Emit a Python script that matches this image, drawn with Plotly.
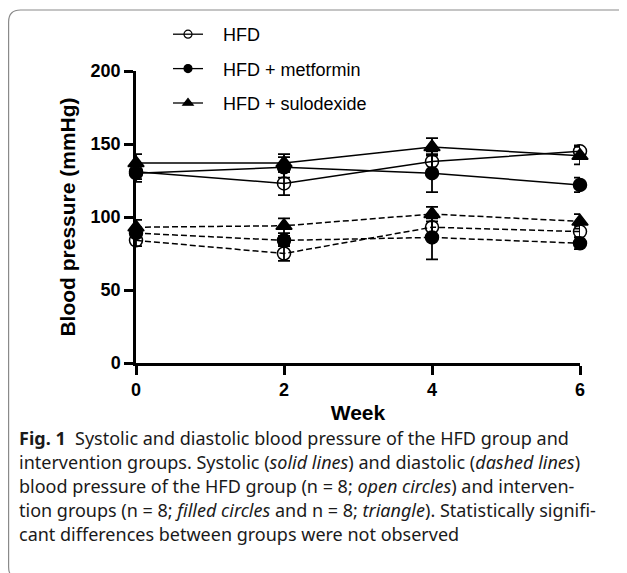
import plotly.graph_objects as go

W, H = 627, 573
OFF = 8  # page body margin: figure is drawn 8px right/down in the window

weeks = [0, 2, 4, 6]
groups = ["HFD", "HFD + metformin", "HFD + sulodexide"]
symbols = ["circle-open", "circle", "triangle-up"]

systolic = {
    "HFD": [131, 123, 138, 145],
    "HFD + metformin": [130, 134, 130, 122],
    "HFD + sulodexide": [137, 137, 148, 142],
}
systolic_err = {
    "HFD": [5, 8, 7, 4],
    "HFD + metformin": [6, 7, 13, 5],
    "HFD + sulodexide": [6, 6, 6, 6],
}
diastolic = {
    "HFD": [84, 75, 93, 90],
    "HFD + metformin": [89, 84, 86, 82],
    "HFD + sulodexide": [93, 94, 102, 97],
}
diastolic_err = {
    "HFD": [4, 5, 6, 4],
    "HFD + metformin": [3, 3, 15, 4],
    "HFD + sulodexide": [5, 5, 5, 5],
}

y_ticks = [0, 50, 100, 150, 200]
x_ticks = [0, 2, 4, 6]

caption_lines = [
    "<b>Fig. 1</b>  Systolic and diastolic blood pressure of the HFD group and",
    "intervention groups. Systolic (<i>solid lines</i>) and diastolic (<i>dashed lines</i>)",
    "blood pressure of the HFD group (n = 8; <i>open circles</i>) and interven-",
    "tion groups (n = 8; <i>filled circles</i> and n = 8; <i>triangle</i>). Statistically signifi-",
    "cant differences between groups were not observed",
]


def px_x(x):
    return (x - OFF) / W


def px_y(y):
    return 1 - (y - OFF) / H


fig = go.Figure()

for i, g in enumerate(groups):
    sym = symbols[i]
    msize = 13 if "circle" in sym else 14
    marker = dict(symbol=sym, size=msize, color="black",
                  line=dict(color="black", width=1.5))
    fig.add_trace(go.Scatter(
        x=weeks, y=systolic[g], name=g, mode="lines+markers",
        showlegend=False,
        line=dict(color="black", width=1.5),
        marker=marker, cliponaxis=False,
        error_y=dict(type="data", array=systolic_err[g], color="black",
                     thickness=1.8, width=6),
    ))
    fig.add_trace(go.Scatter(
        x=weeks, y=diastolic[g], name=g, mode="lines+markers",
        showlegend=False,
        line=dict(color="black", width=1.5, dash="6px,3px"),
        marker=marker, cliponaxis=False,
        error_y=dict(type="data", array=diastolic_err[g], color="black",
                     thickness=1.8, width=6),
    ))

# legend entries (smaller legend symbols, as in the reference)
for i, g in enumerate(groups):
    sym = symbols[i]
    fig.add_trace(go.Scatter(
        x=[None], y=[None], name="\u00a0\u00a0\u00a0" + g, mode="lines+markers",
        legendgroup=g, showlegend=True,
        line=dict(color="black", width=1.3),
        marker=dict(symbol=sym, size=8 if "circle" in sym else 9, color="black",
                    line=dict(color="black", width=1.2)),
    ))

x0p, x1p = 136, 580
y0p, y1p = 363, 71

tickfont = dict(size=18, family="Liberation Sans, Arial", weight="bold")

fig.update_layout(
    width=W, height=H,
    margin=dict(l=0, r=0, t=0, b=0, autoexpand=False),
    paper_bgcolor="white", plot_bgcolor="white",
    font=dict(family="Liberation Sans, Arial", color="black"),
    xaxis=dict(
        domain=[px_x(x0p), px_x(x1p)], range=[0, 6], automargin=False,
        tickvals=x_ticks, showgrid=False, zeroline=False,
        showline=True, linecolor="black", linewidth=2.5,
        ticks="outside", ticklen=9, tickwidth=2.5, tickcolor="black",
        tickfont=tickfont,
        title=dict(text="<b>Week</b>", font=dict(size=21), standoff=6),
    ),
    yaxis=dict(
        domain=[px_y(y0p), px_y(y1p)], range=[0, 200], automargin=False,
        tickvals=y_ticks, showgrid=False, zeroline=False,
        showline=True, linecolor="black", linewidth=2.5,
        ticks="outside", ticklen=9, tickwidth=2.5, tickcolor="black",
        tickfont=tickfont,
        title=dict(text="<b>Blood pressure (mmHg)</b>", font=dict(size=21), standoff=10),
    ),
    legend=dict(
        x=px_x(168), y=px_y(16), xanchor="left", yanchor="top",
        font=dict(size=18, family="Liberation Sans, Arial"),
        bgcolor="rgba(0,0,0,0)", tracegroupgap=8,
    ),
    showlegend=True,
)

# rounded frame
r = 12
L, T, R, B = 8.6, 10, 660, 579
path = (f"M{px_x(L)},{px_y(T + r)} Q{px_x(L)},{px_y(T)} {px_x(L + r)},{px_y(T)} "
        f"L{px_x(R)},{px_y(T)} L{px_x(R)},{px_y(B)} L{px_x(L + r)},{px_y(B)} "
        f"Q{px_x(L)},{px_y(B)} {px_x(L)},{px_y(B - r)} Z")
fig.add_shape(type="path", path=path, xref="paper", yref="paper",
              line=dict(color="#8a8a8a", width=1.2), fillcolor="rgba(0,0,0,0)",
              layer="below")

for k, txt in enumerate(caption_lines):
    fig.add_annotation(
        x=px_x(17), y=px_y(438 + 24 * k), xref="paper", yref="paper",
        xanchor="left", yanchor="middle", showarrow=False, align="left",
        text=txt, font=dict(size=18, family="Noto Sans", color="#1a1a1a"),
    )

fig.write_html("out.html")
